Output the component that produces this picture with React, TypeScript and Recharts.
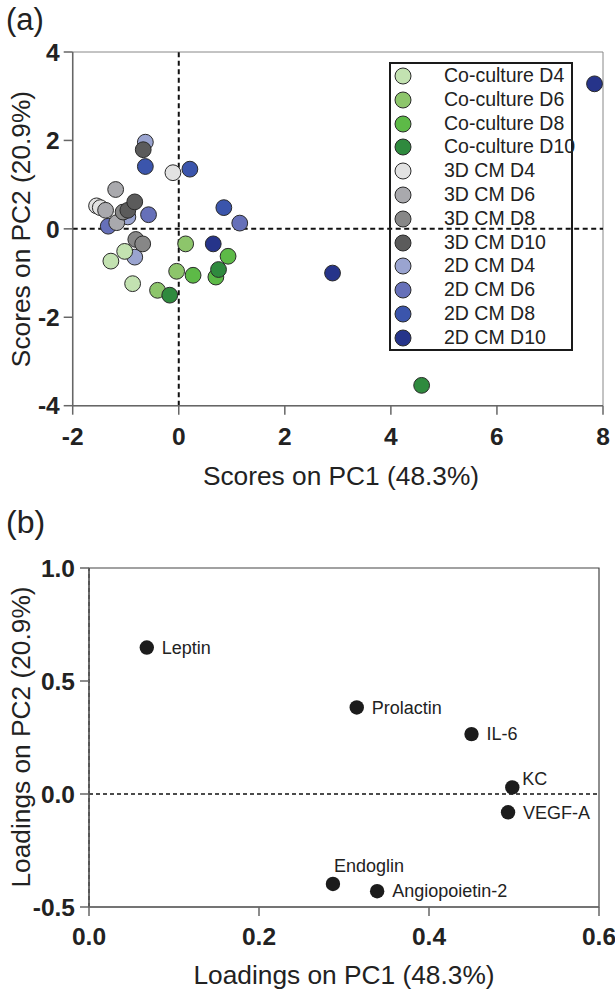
import React from 'react';
import { ScatterChart, Scatter, XAxis, YAxis, ReferenceLine, ReferenceArea } from 'recharts';

const FONT = '"Liberation Sans", Arial, Helvetica, sans-serif';

// ---------- Panel (a): PCA scores ----------
const groupNames = [
  'Co-culture D4', 'Co-culture D6', 'Co-culture D8', 'Co-culture D10',
  '3D CM D4', '3D CM D6', '3D CM D8', '3D CM D10',
  '2D CM D4', '2D CM D6', '2D CM D8', '2D CM D10',
];
const groupColors = [
  '#c3e2b1', '#8dc56b', '#5dba47', '#2f8a3e',
  '#e2e2e2', '#a9a9ad', '#878787', '#5b5b5b',
  '#9aa4d0', '#6670b9', '#3b55ac', '#26348a',
];
const coCultureD4 = [{ x: -1.02, y: -0.51 }, { x: -1.28, y: -0.73 }, { x: -0.87, y: -1.24 }];
const coCultureD6 = [{ x: 0.13, y: -0.34 }, { x: -0.04, y: -0.96 }, { x: -0.4, y: -1.39 }];
const coCultureD8 = [{ x: 0.93, y: -0.62 }, { x: 0.7, y: -1.09 }, { x: 0.27, y: -1.05 }];
const coCultureD10 = [{ x: 0.75, y: -0.92 }, { x: -0.17, y: -1.5 }, { x: 4.58, y: -3.54 }];
const cm3dD4 = [{ x: -0.11, y: 1.27 }, { x: -1.55, y: 0.52 }, { x: -1.48, y: 0.48 }];
const cm3dD6 = [{ x: -1.19, y: 0.89 }, { x: -1.17, y: 0.14 }, { x: -1.38, y: 0.42 }];
const cm3dD8 = [{ x: -0.81, y: -0.24 }, { x: -0.68, y: -0.34 }, { x: -1.05, y: 0.38 }];
const cm3dD10 = [{ x: -0.67, y: 1.79 }, { x: -0.96, y: 0.42 }, { x: -0.83, y: 0.61 }];
const cm2dD4 = [{ x: -0.63, y: 1.96 }, { x: -0.96, y: 0.27 }, { x: -0.83, y: -0.64 }];
const cm2dD6 = [{ x: -1.33, y: 0.06 }, { x: -0.57, y: 0.32 }, { x: 1.15, y: 0.13 }];
const cm2dD8 = [{ x: -0.63, y: 1.41 }, { x: 0.21, y: 1.35 }, { x: 0.85, y: 0.48 }];
const cm2dD10 = [{ x: 0.65, y: -0.34 }, { x: 2.9, y: -1.0 }, { x: 7.84, y: 3.28 }];
const scoreGroups = [
  coCultureD4, coCultureD6, coCultureD8, coCultureD10,
  cm3dD4, cm3dD6, cm3dD8, cm3dD10,
  cm2dD4, cm2dD6, cm2dD8, cm2dD10,
];
const drawOrder = [8, 9, 10, 11, 4, 5, 6, 7, 0, 1, 2, 3];
const xTicksA = [-2, 0, 2, 4, 6, 8];
const yTicksA = [-4, -2, 0, 2, 4];

// ---------- Panel (b): PCA loadings ----------
const markers = ['Leptin', 'Prolactin', 'IL-6', 'KC', 'VEGF-A', 'Endoglin', 'Angiopoietin-2'];
const pc1Loadings = [0.068, 0.315, 0.45, 0.498, 0.493, 0.287, 0.339];
const pc2Loadings = [0.648, 0.383, 0.265, 0.029, -0.081, -0.398, -0.43];
const xTicksB = [0, 0.2, 0.4, 0.6];
const yTicksB = [-0.5, 0, 0.5, 1.0];

const loadingData = markers.map((name, i) => ({ name, x: pc1Loadings[i], y: pc2Loadings[i] }));

const labelPlacement: Record<string, string> = { KC: 'aboveRight', Endoglin: 'above' };

const tickStyle = { fontSize: 24.5, fontWeight: 700, fill: '#222', fontFamily: FONT };
const axisStroke = { stroke: '#666', strokeWidth: 1.5 };

const LoadingDot = (props: any) => {
  const { cx, cy, payload } = props;
  const place = labelPlacement[payload.name] || 'right';
  let tx = cx + 15;
  let ty = cy;
  if (place === 'aboveRight') { tx = cx + 10; ty = cy - 9; }
  if (place === 'above') { tx = cx + 1; ty = cy - 18; }
  return (
    <g>
      <circle cx={cx} cy={cy} r={7.2} fill="#1c1c1c" />
      <text x={tx} y={ty} dy="0.35em" fontSize={18} fill="#222" fontFamily={FONT}>{payload.name}</text>
    </g>
  );
};

const Legend = () => (
  <div style={{
    position: 'absolute', left: 389, top: 62, width: 184, height: 289, boxSizing: 'border-box',
    border: '2px solid #1a1a1a', background: 'transparent',
  }}>
    {groupNames.map((n, i) => (
      <div key={n} style={{ position: 'absolute', left: 0, top: i * 23.8, height: 23.8, width: 180 }}>
        <svg width={24} height={22} style={{ position: 'absolute', left: 0, top: 1 }}>
          <circle cx={12} cy={11} r={8} fill={groupColors[i]} stroke="#2a2a2a" strokeWidth={1} />
        </svg>
        <span style={{ position: 'absolute', left: 53, top: 0, fontSize: 19.5, color: '#222', fontFamily: FONT, whiteSpace: 'nowrap', lineHeight: '23.8px' }}>{n}</span>
      </div>
    ))}
  </div>
);

export default function App() {
  return (
    <div style={{ position: 'absolute', left: 0, top: 0, width: 615, height: 989, background: '#fff', fontFamily: FONT }}>
      <div style={{ position: 'absolute', left: 0, top: 0 }}>
        <ScatterChart width={615} height={490} margin={{ top: 52, right: 12, left: 12.7, bottom: 44.3 }}>
          <XAxis type="number" dataKey="x" domain={[-2, 8]} ticks={xTicksA} allowDataOverflow interval={0}
            height={40} tickSize={9} tickMargin={13} axisLine={axisStroke} tickLine={axisStroke} tick={tickStyle} />
          <YAxis type="number" dataKey="y" domain={[-4, 4]} ticks={yTicksA} allowDataOverflow interval={0}
            width={60} tickSize={9} tickMargin={4} axisLine={axisStroke} tickLine={axisStroke} tick={tickStyle} />
          <ReferenceArea x1={-2} x2={8} y1={-4} y2={4} fill="none" fillOpacity={0} stroke="#888" strokeWidth={1} />
          <ReferenceLine x={0} stroke="#111" strokeWidth={2} strokeDasharray="5 3.5" />
          <ReferenceLine y={0} stroke="#111" strokeWidth={2} strokeDasharray="5 3.5" />
          {drawOrder.map((gi) => (
            <Scatter key={groupNames[gi]} name={groupNames[gi]} data={scoreGroups[gi]} fill={groupColors[gi]}
              isAnimationActive={false}
              shape={(p: any) => <circle cx={p.cx} cy={p.cy} r={7.9} fill={groupColors[gi]} stroke="#2a2a2a" strokeWidth={1} />} />
          ))}
        </ScatterChart>
        <Legend />
      </div>
      <div style={{ position: 'absolute', left: 0, top: 500 }}>
        <ScatterChart width={615} height={489} margin={{ top: 68, right: 16, left: 29, bottom: 42 }}>
          <XAxis type="number" dataKey="x" domain={[0, 0.6]} ticks={xTicksB} allowDataOverflow interval={0}
            tickFormatter={(v: number) => v.toFixed(1)}
            height={40} tickSize={9} tickMargin={12} axisLine={axisStroke} tickLine={axisStroke} tick={tickStyle} />
          <YAxis type="number" dataKey="y" domain={[-0.5, 1.0]} ticks={yTicksB} allowDataOverflow interval={0}
            tickFormatter={(v: number) => v.toFixed(1)}
            width={60} tickSize={9} tickMargin={5} axisLine={axisStroke} tickLine={axisStroke} tick={tickStyle} />
          <ReferenceArea x1={0} x2={0.6} y1={-0.5} y2={1.0} fill="none" fillOpacity={0} stroke="#444" strokeWidth={1.2} />
          <ReferenceLine x={0} stroke="#111" strokeWidth={1.6} strokeDasharray="4 3" />
          <ReferenceLine y={0} stroke="#111" strokeWidth={1.6} strokeDasharray="4 3" />
          <Scatter name="Loadings" data={loadingData} fill="#1c1c1c" isAnimationActive={false} shape={LoadingDot} />
        </ScatterChart>
      </div>
      <svg width={615} height={989} style={{ position: 'absolute', left: 0, top: 0, pointerEvents: 'none' }}>
        <g fontFamily={FONT} fill="#222">
          <text x={6} y={30} fontSize={31}>(a)</text>
          <text x={6} y={533} fontSize={32}>(b)</text>
          <text x={341} y={485} fontSize={26.3} textAnchor="middle">Scores on PC1 (48.3%)</text>
          <text transform="translate(30,229) rotate(-90)" fontSize={26.3} textAnchor="middle">Scores on PC2 (20.9%)</text>
          <text x={344} y={984} fontSize={26.3} textAnchor="middle">Loadings on PC1 (48.3%)</text>
          <text transform="translate(30,737) rotate(-90)" fontSize={26.3} textAnchor="middle">Loadings on PC2 (20.9%)</text>
        </g>
      </svg>
    </div>
  );
}
